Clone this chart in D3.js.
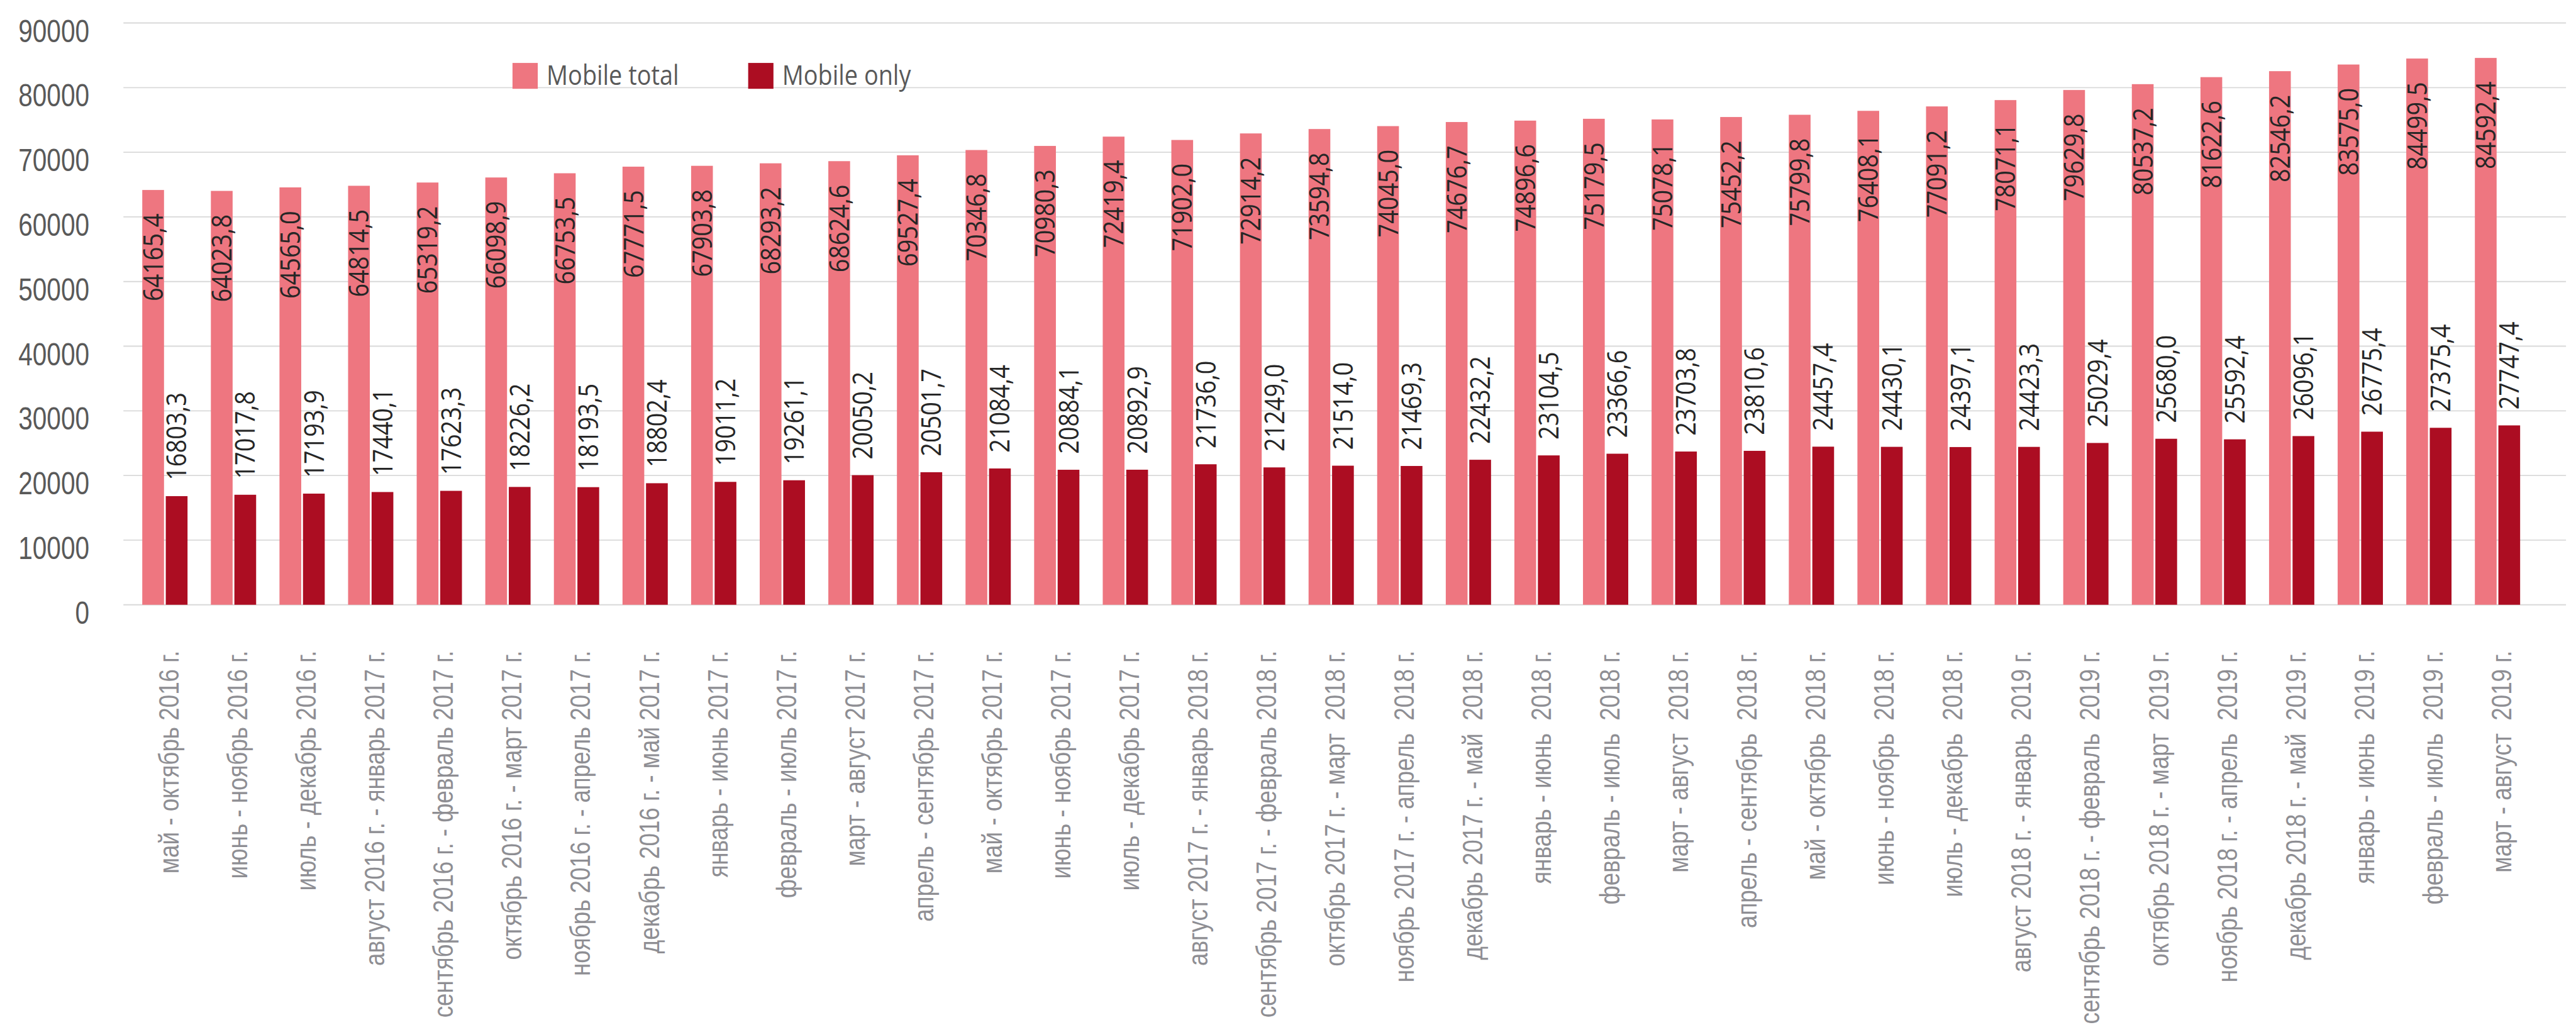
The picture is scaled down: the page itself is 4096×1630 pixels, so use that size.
<!DOCTYPE html>
<html>
<head>
<meta charset="utf-8">
<script src="https://cdn.jsdelivr.net/npm/d3@7"></script>
<style>
  html, body { margin: 0; padding: 0; background: #ffffff; overflow: hidden; }
  svg { display: block; }
  text { white-space: pre; }
</style>
</head>
<body>
<svg id="chart"></svg>
<script>
// Rolling six-month periods
const categories = [
  "май - октябрь 2016 г.",
  "июнь - ноябрь 2016 г.",
  "июль - декабрь 2016 г.",
  "август 2016 г. - январь 2017 г.",
  "сентябрь 2016 г. - февраль 2017 г.",
  "октябрь 2016 г. - март 2017 г.",
  "ноябрь 2016 г. - апрель 2017 г.",
  "декабрь 2016 г. - май 2017 г.",
  "январь - июнь 2017 г.",
  "февраль - июль 2017 г.",
  "март - август 2017 г.",
  "апрель - сентябрь 2017 г.",
  "май - октябрь 2017 г.",
  "июнь - ноябрь 2017 г.",
  "июль - декабрь 2017 г.",
  "август 2017 г. - январь 2018 г.",
  "сентябрь 2017 г. - февраль 2018 г.",
  "октябрь 2017 г. - март  2018 г.",
  "ноябрь 2017 г. - апрель  2018 г.",
  "декабрь 2017 г. - май  2018 г.",
  "январь - июнь  2018 г.",
  "февраль - июль  2018 г.",
  "март - август  2018 г.",
  "апрель - сентябрь  2018 г.",
  "май - октябрь  2018 г.",
  "июнь - ноябрь  2018 г.",
  "июль - декабрь  2018 г.",
  "август 2018 г. - январь  2019 г.",
  "сентябрь 2018 г. - февраль  2019 г.",
  "октябрь 2018 г. - март  2019 г.",
  "ноябрь 2018 г. - апрель  2019 г.",
  "декабрь 2018 г. - май  2019 г.",
  "январь - июнь  2019 г.",
  "февраль - июль  2019 г.",
  "март - август  2019 г."
];

const mobileTotal = [
  64165.4, 64023.8, 64565.0, 64814.5, 65319.2, 66098.9, 66753.5, 67771.5,
  67903.8, 68293.2, 68624.6, 69527.4, 70346.8, 70980.3, 72419.4, 71902.0,
  72914.2, 73594.8, 74045.0, 74676.7, 74896.6, 75179.5, 75078.1, 75452.2,
  75799.8, 76408.1, 77091.2, 78071.1, 79629.8, 80537.2, 81622.6, 82546.2,
  83575.0, 84499.5, 84592.4
];

const mobileOnly = [
  16803.3, 17017.8, 17193.9, 17440.1, 17623.3, 18226.2, 18193.5, 18802.4,
  19011.2, 19261.1, 20050.2, 20501.7, 21084.4, 20884.1, 20892.9, 21736.0,
  21249.0, 21514.0, 21469.3, 22432.2, 23104.5, 23366.6, 23703.8, 23810.6,
  24457.4, 24430.1, 24397.1, 24423.3, 25029.4, 25680.0, 25592.4, 26096.1,
  26775.4, 27375.4, 27747.4
];

const seriesNames = ["Mobile total", "Mobile only"];
const yTicks = [0, 10000, 20000, 30000, 40000, 50000, 60000, 70000, 80000, 90000];

// ---- drawing ----
const W = 4383, H = 1744;
const COLORS = { "Mobile total": "#ee7680", "Mobile only": "#ac0d22" };
const LABEL_FONT = "'Open Sans', 'Noto Sans', sans-serif";
const AXIS_FONT = "'Liberation Sans', Arial, sans-serif";

const svg = d3.select("#chart")
  .attr("width", 4096)
  .attr("height", 1630)
  .attr("viewBox", `0 0 ${W} ${H}`);

const plot = { left: 210, right: 4366 };

const x = d3.scaleBand()
  .domain(categories)
  .range([222.2, 4307.8])
  .paddingInner(0)
  .paddingOuter(0);

const xs = d3.scaleBand()
  .domain(seriesNames)
  .range([-38.5, 38.5])
  .paddingInner(0.075)
  .paddingOuter(0);

const y = d3.scaleLinear().domain([0, 90000]).range([1029, 39]);

const rows = categories.map((c, i) => ({
  cat: c,
  values: [
    { key: "Mobile total", v: mobileTotal[i] },
    { key: "Mobile only", v: mobileOnly[i] }
  ]
}));

const fmt = v => d3.format(".1f")(v).replace(".", ",");
const center = c => x(c) + x.bandwidth() / 2;

// gridlines
svg.append("g").selectAll("line")
  .data(yTicks)
  .join("line")
  .attr("x1", plot.left).attr("x2", plot.right)
  .attr("y1", d => y(d)).attr("y2", d => y(d))
  .attr("stroke", "#d9d9d9")
  .attr("stroke-width", 2);

// y tick labels (condensed)
svg.append("g").selectAll("g")
  .data(yTicks)
  .join("g")
  .attr("transform", d => `translate(152,${y(d) + 13}) scale(0.82,1)`)
  .append("text")
  .attr("text-anchor", "end")
  .attr("dy", "0.36em")
  .attr("font-family", AXIS_FONT)
  .attr("font-size", 53)
  .attr("fill", "#595959")
  .text(d => d);

// bars
const groups = svg.append("g").selectAll("g")
  .data(rows)
  .join("g")
  .attr("transform", d => `translate(${center(d.cat)},0)`);

groups.selectAll("rect")
  .data(d => d.values)
  .join("rect")
  .attr("x", d => xs(d.key))
  .attr("width", xs.bandwidth())
  .attr("y", d => y(d.v))
  .attr("height", d => y(0) - y(d.v))
  .attr("fill", d => COLORS[d.key]);

// value labels: inside the top of the total bars, above the mobile-only bars
groups.selectAll("g.lbl")
  .data(d => d.values)
  .join("g")
  .attr("class", "lbl")
  .attr("transform", d => {
    const cx = xs(d.key) + xs.bandwidth() / 2;
    const yy = d.key === "Mobile total" ? y(d.v) + 40 : y(d.v) - 27;
    return `translate(${cx},${yy}) rotate(-90) scale(0.88,1)`;
  })
  .append("text")
  .attr("text-anchor", d => d.key === "Mobile total" ? "end" : "start")
  .attr("dy", "0.36em")
  .attr("font-family", LABEL_FONT)
  .attr("font-size", 46)
  .attr("fill", "#262626")
  .text(d => fmt(d.v));

// category labels
svg.append("g").selectAll("g")
  .data(categories)
  .join("g")
  .attr("transform", d => `translate(${center(d) + 6},1107) rotate(-90) scale(0.82,1)`)
  .append("text")
  .attr("text-anchor", "end")
  .attr("dy", "0.36em")
  .attr("font-family", AXIS_FONT)
  .attr("font-size", 48)
  .attr("fill", "#8e8e93")
  .text(d => d);

// legend
const legendPos = [{ key: "Mobile total", x: 872 }, { key: "Mobile only", x: 1273 }];
const legend = svg.append("g").selectAll("g")
  .data(legendPos)
  .join("g")
  .attr("transform", d => `translate(${d.x},107)`);

legend.append("rect")
  .attr("width", 43).attr("height", 44)
  .attr("fill", d => COLORS[d.key]);

legend.append("g")
  .attr("transform", "translate(58,37) scale(0.88,1)")
  .append("text")
  .attr("font-family", LABEL_FONT)
  .attr("font-size", 46)
  .attr("fill", "#595959")
  .text(d => d.key);
</script>
</body>
</html>
